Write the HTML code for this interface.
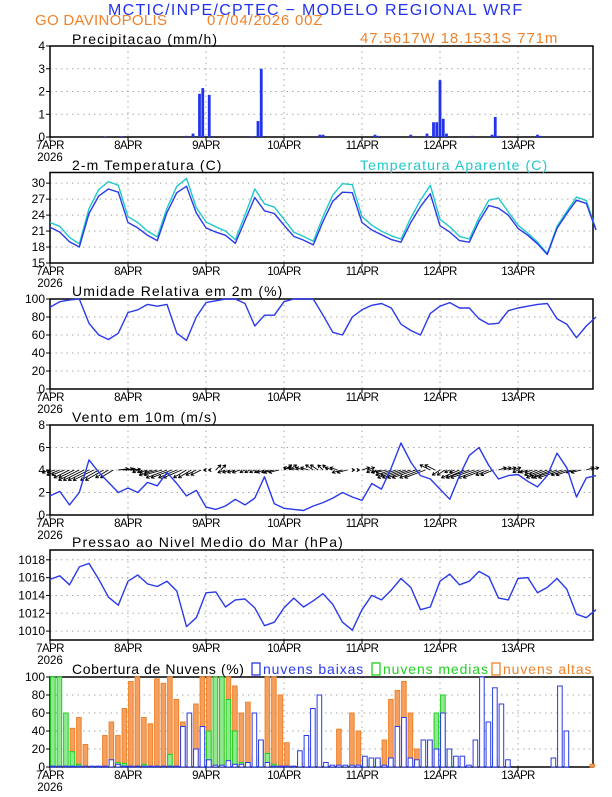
<!DOCTYPE html>
<html><head><meta charset="utf-8"><style>
body{margin:0;background:#fff;width:612px;height:792px;overflow:hidden}
svg text{font-family:"Liberation Sans",sans-serif}
</style></head><body>
<svg id="chart" width="612" height="792" viewBox="0 0 612 792" xmlns="http://www.w3.org/2000/svg">
<text x="108" y="15" font-size="16" fill="#2233ee" letter-spacing="1.3">MCTIC/INPE/CPTEC − MODELO REGIONAL WRF</text>
<text x="35" y="25" font-size="15" fill="#f0822a" letter-spacing="0.3">GO DAVINOPOLIS</text>
<text x="207" y="25" font-size="15" fill="#f0822a" letter-spacing="0.8">07/04/2026 00Z</text>
<text x="360" y="43" font-size="15" fill="#f0822a" letter-spacing="0.9">47.5617W 18.1531S 771m</text>
<g id="plots"></g>
</svg>
<script>
// ---- data (3-hourly, hour 0..168) ----
const hours3 = [0,3,6,9,12,15,18,21,24,27,30,33,36,39,42,45,48,51,54,57,60,63,66,69,72,75,78,81,84,87,90,93,96,99,102,105,108,111,114,117,120,123,126,129,132,135,138,141,144,147,150,153,156,159,162,165,168];
const tempVals = [21.7,20.8,19.0,18.0,24.3,27.6,28.9,28.3,22.6,21.6,20.2,19.2,24.5,28.2,29.4,24.4,21.6,20.8,20.2,18.7,23.0,27.3,24.8,24.3,22.1,20.0,19.3,18.4,22.8,26.6,28.3,28.2,22.6,21.2,20.3,19.4,18.9,22.6,25.6,28.0,22.0,20.8,19.2,18.9,22.8,25.8,25.3,24.0,21.5,20.2,18.6,16.6,21.5,24.3,26.8,26.2,21.2];
const appTempVals = [22.6,21.9,19.8,18.6,25.2,28.8,30.3,29.6,23.7,22.6,21.0,19.9,25.3,29.4,30.9,25.4,22.7,21.8,21.0,19.4,24.0,28.9,26.1,25.5,23.2,20.8,20.0,19.1,23.7,27.8,29.9,29.7,23.7,22.1,21.0,20.1,19.5,23.5,26.8,29.6,23.2,21.8,20.0,19.5,23.5,26.8,27.2,24.6,22.1,20.6,18.9,16.8,21.9,24.7,27.4,26.7,21.3];
const rhVals = [91,97,99,100,73,60,55,62,85,88,94,92,94,62,54,80,96,98,100,100,95,70,82,82,97,100,100,100,82,63,60,80,88,93,95,90,72,65,60,84,92,96,90,90,78,72,73,87,90,92,94,95,78,72,57,70,80];
const windSpd = [1.7,2.1,0.9,2.0,4.9,3.8,2.9,2.0,2.4,2.0,2.9,2.6,3.8,2.8,1.7,2.2,0.7,0.5,0.8,1.4,0.9,1.5,3.4,1.0,0.6,0.5,0.4,0.8,1.1,1.5,2.0,1.6,1.3,2.8,2.3,4.2,6.4,4.7,3.5,3.2,2.3,1.4,3.5,5.3,6.0,4.4,3.2,3.5,3.6,3.0,2.5,3.5,5.5,4.2,1.6,3.3,3.5];
const windU = [-3,-5,-6,-8,-8,-7,-5,4,3,-2,-3,-7,-8,-7,-5,-4,-1,2,-3,-3,-2,-2,-3,-4,3,-4,-3,-3,-2,-3,-4,1,3,-2,-4,-6,-9,-9,-8,-4,-3,-2,-7,-9,-8,-5,3,3,-2,-3,-5,-8,-9,-6,-4,3,-2];
const windV = [-1,-2,-3,-4,-4,-4,-3,0.5,0.3,-1,-1,-2,-3,-3,-3,-2,0,2,-1,-1,-1,-1,-1,-1,2,1,1,2,2,1,-1,0,1,-1,-1,-2,-3,-3,-3,2,-2,-1,-3,-3,-3,-2,1,1,-1,-1,-2,-3,-3,-2,-1,1,-1];
const pressVals = [1015.8,1016.2,1015.2,1017.2,1017.6,1015.8,1013.8,1012.9,1015.6,1016.3,1015.3,1015.0,1015.6,1014.5,1010.5,1011.5,1014.3,1014.4,1012.7,1013.5,1013.6,1012.6,1010.6,1011.0,1012.6,1013.7,1012.7,1013.4,1014.2,1013.0,1011.0,1010.1,1012.4,1014.0,1013.5,1014.6,1015.9,1014.9,1012.4,1012.7,1015.6,1016.4,1015.2,1015.6,1016.7,1016.1,1013.7,1013.5,1015.9,1016.0,1014.3,1014.9,1015.9,1014.7,1011.9,1011.5,1012.4];
// precipitation (hour, mm/h)
const precipHours = [17,22,42,44,46,47,49,62,64,65,83,84,100,101,111,116,118,119,120,121,122,130,136,137,138,150,151];
const precipVals = [0.02,0.03,0.05,0.15,1.9,2.15,1.85,0.03,0.7,3.0,0.1,0.1,0.1,0.05,0.1,0.15,0.65,0.65,2.5,0.8,0.15,0.05,0.1,0.88,0.05,0.1,0.05];
// clouds (2-hourly, hour 0..166)
const cloudHours = Array.from({length:84},(_,i)=>i*2);
const cloudLow = [1,1,1,1,1,1,1,1,1,8,3,1,1,1,1,1,1,1,1,1,45,60,20,45,8,2,2,7,3,3,5,60,30,5,1,1,1,1,18,35,65,80,5,2,2,2,2,2,12,10,10,2,10,45,55,10,8,30,30,20,60,20,12,12,2,30,100,50,88,70,8,0,0,0,0,0,0,10,90,40,0,0,0,0];
const cloudMid = [100,100,60,17,3,0,0,0,0,0,5,4,0,0,3,0,0,0,14,0,0,0,0,3,40,100,100,75,40,5,0,13,30,15,3,0,0,0,0,0,0,0,0,0,0,0,0,0,8,8,6,0,0,0,0,0,0,0,0,60,80,20,0,0,0,0,0,0,10,0,0,0,0,0,0,0,0,0,0,0,0,0,0,0];
const cloudHigh = [0,0,0,43,55,25,0,0,35,50,35,65,95,100,55,48,98,93,100,75,50,57,70,100,100,100,100,100,90,60,72,0,30,100,100,80,27,0,5,0,0,0,0,0,42,0,60,40,0,0,0,30,75,85,95,60,20,0,30,55,20,0,0,0,0,0,0,0,0,0,0,0,0,0,0,0,0,0,0,0,0,0,0,3];
const dayLabels = ["7APR","8APR","9APR","10APR","11APR","12APR","13APR"];

// ---- helpers ----
const NS="http://www.w3.org/2000/svg";
const root=document.getElementById('plots');
const X0=50, PXH=78/24, XMAX=593;
function xs(h){return X0+h*PXH;}
function mk(tag,attrs,parent){const e=document.createElementNS(NS,tag);for(const k in attrs)e.setAttribute(k,attrs[k]);(parent||root).appendChild(e);return e;}
function panel(name,top,bot,ymin,ymax,ticks){
  const g=mk('g',{});
  
  
  const ys=v=>bot-(v-ymin)/(ymax-ymin)*(bot-top);
  ticks.forEach(t=>{
    const ln=mk('line',{x1:X0,x2:XMAX,y1:ys(t),y2:ys(t),stroke:'#aaa','stroke-dasharray':'1.5,4','stroke-width':1},g);
    
    
    mk('line',{x1:X0-4,x2:X0,y1:ys(t),y2:ys(t),stroke:'#000'},g);
    const tx=mk('text',{x:X0-5,y:ys(t)+4,'font-size':12,'text-anchor':'end'},g);
    tx.textContent=t;
    
    
  });
  dayLabels.forEach((d,i)=>{
    if(i>0){const ln=mk('line',{x1:xs(i*24),x2:xs(i*24),y1:top,y2:bot,stroke:'#aaa','stroke-dasharray':'1.5,4'},g);
      
      }
    mk('line',{x1:xs(i*24),x2:xs(i*24),y1:bot,y2:bot+4,stroke:'#000'},g);
    const tx=mk('text',{x:xs(i*24),y:bot+12,'font-size':11.5,'text-anchor':'middle','letter-spacing':'-0.6'},g);
    tx.textContent=d;
    
    
  });
  const yr=mk('text',{x:X0,y:bot+24,'font-size':11.5,'text-anchor':'middle'},g);
  yr.textContent='2026';
  
  
  const fr=mk('rect',{x:X0,y:top,width:XMAX-X0,height:bot-top,fill:'none',stroke:'#000','stroke-width':1.5},g);
  
  
  return {g,ys};
}
function title(txt,x,y,name,color,ls){
  const t=mk('text',{x:x,y:y,'font-size':14,fill:color||'#000','letter-spacing':ls||'1.1'});
  t.textContent=txt;
  
  
}
function line(p,hs,vals,color,name){
  const d=vals.map((v,i)=>(i?'L':'M')+xs(hs[i]).toFixed(1)+','+p.ys(v).toFixed(1)).join('');
  const e=mk('path',{d:d,fill:'none',stroke:color,'stroke-width':1.4,'stroke-linejoin':'round'},p.g);
  
  
}

// Panel 1 precipitation
const p1=panel('precip',46,137,0,4,[0,1,2,3,4]);
title('Precipitacao (mm/h)',72,44,'precip-title');
precipHours.forEach((h,i)=>{
  const y=p1.ys(precipVals[i]);
  const b=mk('rect',{x:xs(h)-1.4,y:y,width:2.8,height:p1.ys(0)-y,fill:'#2233ee'},p1.g);
  
  
});

// Panel 2 temperature
const p2=panel('temp',172.5,263,15,32,[15,18,21,24,27,30]);
title('2-m Temperatura (C)',72,170,'temp-title');
title('Temperatura Aparente (C)',360,170,'apparent-temp-legend','#20c8c8');
line(p2,hours3,appTempVals,'#20c8c8','apparent-temp-line');
line(p2,hours3,tempVals,'#2a3ae8','temp-line');

// Panel 3 RH
const p3=panel('rh',299,389,0,100,[0,20,40,60,80,100]);
title('Umidade Relativa em 2m (%)',72,296,'rh-title');
line(p3,hours3,rhVals,'#2a3ae8','rh-line');

// Panel 4 wind
const p4=panel('wind',425,515,0,8,[0,2,4,6,8]);
title('Vento em 10m (m/s)',72,422,'wind-title');
hours3.forEach((h,i)=>{
  for(let k=0;k<3 && h+k<=167;k+=1.5){
    const x=xs(h+k), y=p4.ys(4);
    const s=2.6, u=windU[i]*s, v=windV[i]*s;
    const x2=x+u, y2=y-v;
    const a=Math.atan2(y2-y,x2-x);
    const ar=mk('path',{d:`M${x},${y}L${x2},${y2}M${x2},${y2}L${x2-3.5*Math.cos(a-0.5)},${y2-3.5*Math.sin(a-0.5)}M${x2},${y2}L${x2-3.5*Math.cos(a+0.5)},${y2-3.5*Math.sin(a+0.5)}`,stroke:'#000','stroke-width':0.9,fill:'none'},p4.g);
    
    
  }
});
line(p4,hours3,windSpd,'#2a3ae8','wind-speed-line');

// Panel 5 pressure
const p5=panel('pressure',550,640,1009,1019.1,[1010,1012,1014,1016,1018]);
title('Pressao ao Nivel Medio do Mar (hPa)',72,547,'pressure-title');
line(p5,hours3,pressVals,'#2a3ae8','pressure-line');

// Panel 6 clouds
const p6=panel('cloud',677,767,0,100,[0,20,40,60,80,100]);
title('Cobertura de Nuvens (%)',72,674,'cloud-title','#000','0.6');
[['nuvens baixas',252,'#2a3ae8','low'],['nuvens medias',372,'#20d020','mid'],['nuvens altas',492,'#f0822a','high']].forEach(l=>{
  const r=mk('rect',{x:l[1],y:663,width:8,height:12,fill:'none',stroke:l[2],'stroke-width':1.3});
  
  
  const t=mk('text',{x:l[1]+11,y:674,'font-size':14,fill:l[2],'letter-spacing':'0.9'});
  t.textContent=l[0];
  
  
});
function cbars(vals,fill,stroke,name,off){
  cloudHours.forEach((h,i)=>{
    const v=vals[i]; if(v<=0)return;
    const y=p6.ys(v);
    const b=mk('rect',{x:xs(h)+off,y:y,width:4.6,height:p6.ys(0)-y,fill:fill,stroke:stroke,'stroke-width':1},p6.g);
    
    
  });
}
cbars(cloudHigh,'#f4a060','#f0822a','cloud-high-bar',0.6);
cbars(cloudMid,'#90e890','#20d020','cloud-mid-bar',0.6);
cbars(cloudLow,'#ffffff','#2a3ae8','cloud-low-bar',0.6);
</script>
</body></html>
